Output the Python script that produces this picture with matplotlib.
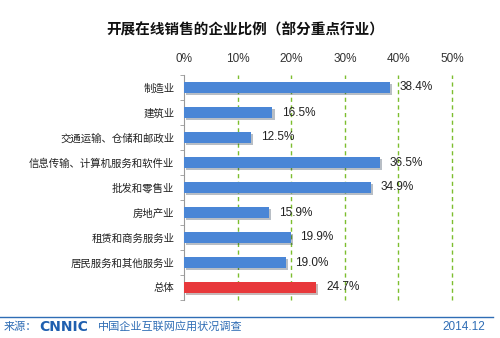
import matplotlib
matplotlib.use("Agg")
import matplotlib.pyplot as plt
import matplotlib.patheffects as pe

plt.rcParams['font.family'] = ['Noto Sans CJK SC', 'DejaVu Sans']

categories = ["制造业", "建筑业", "交通运输、仓储和邮政业", "信息传输、计算机服务和软件业",
              "批发和零售业", "房地产业", "租赁和商务服务业", "居民服务和其他服务业", "总体"]
values = [38.4, 16.5, 12.5, 36.5, 34.9, 15.9, 19.9, 19.0, 24.7]
bar_colors = ["#4A86D6"] * 8 + ["#E8383B"]
ticks = [0, 10, 20, 30, 40, 50]
tick_labels = ["0%", "10%", "20%", "30%", "40%", "50%"]

fig = plt.figure(figsize=(5.0, 3.38), dpi=100)
ax = fig.add_axes([184/500, 1-300/338, (452-184)/500, (300-75)/338])

y = list(range(len(categories)))
ax.barh(y, values, height=0.42, color=bar_colors, zorder=3,
        path_effects=[pe.SimplePatchShadow(offset=(1.5, -1.5), alpha=0.3), pe.Normal()])
ax.set_ylim(len(categories) - 0.5, -0.5)
ax.set_xlim(0, 50)
ax.xaxis.tick_top()
ax.set_xticks(ticks)
ax.set_xticklabels(tick_labels, fontsize=8.5, color="#333333", family="Liberation Sans")
ax.tick_params(axis='x', length=0, pad=7)
ax.set_yticks(y)
ax.set_yticklabels(categories, fontsize=7.5, color="#222222")
ax.tick_params(axis='y', length=0, pad=7)
ax.set_yticks([i + 0.5 for i in range(-1, len(categories))], minor=True)
ax.tick_params(axis='y', which='minor', length=3, color="#999999")
for t in ticks[1:]:
    ax.axvline(t, color="#7DBE2E", linestyle=(0, (3, 2.5)), linewidth=1.0, zorder=1, clip_on=False)
for s in ["top", "right", "bottom"]:
    ax.spines[s].set_visible(False)
ax.spines["left"].set_color("#999999")
ax.spines["left"].set_linewidth(0.8)
ax.patch.set_alpha(0)

for yi, v in zip(y, values):
    ax.text(v + 1.8, yi, f"{v:.1f}%", va="center", ha="left", fontsize=8.5,
            color="#222222", family="Liberation Sans")

fig.text(0.49, 1-30/338, "开展在线销售的企业比例（部分重点行业）", ha="center", va="center",
         fontsize=10.5, fontweight="bold", color="#111111")

# footer
fig.add_artist(plt.Line2D([0.0, 0.985], [1-317/338, 1-317/338], color="#2F6DB5", linewidth=1.0))
fig.text(0.008, 1-327/338, "来源：", ha="left", va="center", fontsize=8, color="#2F6DB5")
fig.text(0.078, 1-327/338, "CNNIC", ha="left", va="center", fontsize=10, fontweight="bold",
         color="#1F5FAF", family="DejaVu Sans")
fig.text(0.195, 1-327/338, "中国企业互联网应用状况调查", ha="left", va="center", fontsize=8, color="#2F6DB5")
fig.text(0.97, 1-327/338, "2014.12", ha="right", va="center", fontsize=8.5, color="#2F6DB5",
         family="Liberation Sans")

fig.savefig("out.png", dpi=100)
